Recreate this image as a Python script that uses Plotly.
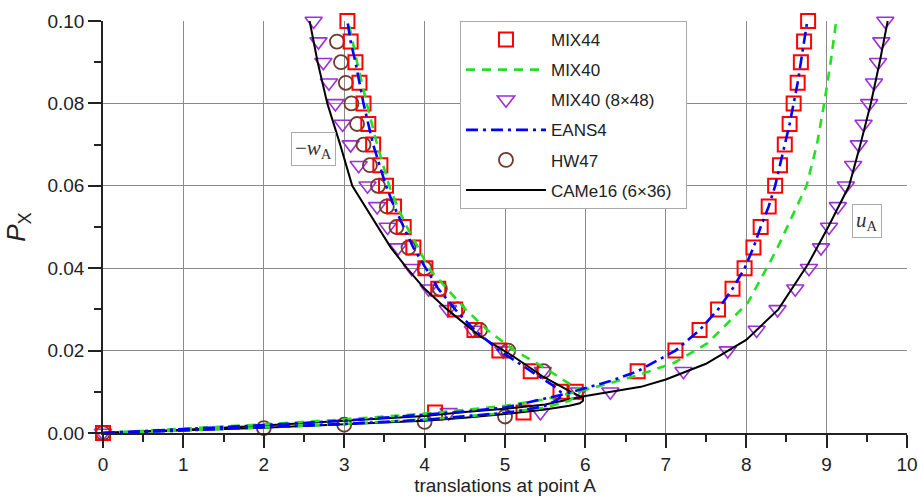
import plotly.graph_objects as go

# ---------------- data ----------------
P_steps = [0.005, 0.010, 0.015, 0.020, 0.025, 0.030, 0.035, 0.040, 0.045, 0.050,
           0.055, 0.060, 0.065, 0.070, 0.075, 0.080, 0.085, 0.090, 0.095, 0.100]

# MIX44 (squares)
mix44_w_x = [0, 5.23, 5.69, 5.32, 4.93, 4.62, 4.38, 4.17, 4.01, 3.86, 3.74,
             3.62, 3.52, 3.45, 3.36, 3.30, 3.24, 3.19, 3.14, 3.08, 3.04]
mix44_w_y = [0] + P_steps
mix44_u_x = [4.13, 5.88, 6.65, 7.12, 7.42, 7.65, 7.83, 7.98, 8.09, 8.18,
             8.28, 8.36, 8.42, 8.48, 8.54, 8.59, 8.64, 8.68, 8.72, 8.77]
mix44_u_y = P_steps

# MIX40 (8x48) (triangles)
tri_w_x = [0, 5.44, 5.92, 5.47, 4.98, 4.60, 4.29, 4.05, 3.84, 3.67, 3.54,
           3.41, 3.29, 3.18, 3.08, 2.98, 2.89, 2.81, 2.74, 2.68, 2.62]
tri_w_y = [0] + P_steps
tri_u_x = [4.30, 6.31, 7.22, 7.77, 8.13, 8.39, 8.61, 8.78, 8.93, 9.03,
           9.14, 9.24, 9.33, 9.40, 9.46, 9.53, 9.59, 9.64, 9.68, 9.73]
tri_u_y = P_steps

# HW47 (circles)
hw47_x = [0, 2.0, 3.0, 4.0, 5.0, 5.48, 5.04, 4.69, 4.41, 4.19, 4.00, 3.80,
          3.65, 3.53, 3.42, 3.32, 3.24, 3.16, 3.09, 3.02, 2.96, 2.91]
hw47_y = [0, 0.0012, 0.0020, 0.0027, 0.0040, 0.015, 0.020, 0.025, 0.030, 0.035,
          0.040, 0.045, 0.050, 0.055, 0.060, 0.065, 0.070, 0.075, 0.080, 0.085,
          0.090, 0.095]

# MIX40 (green dashed)
mix40_w_x = [0, 1, 2, 3, 4, 4.5, 5, 5.5, 5.8, 5.92, 5.94, 5.82, 5.48, 5.12, 4.78,
             4.51, 4.28, 4.05, 3.92, 3.78, 3.66, 3.56, 3.41, 3.28, 3.16, 3.05]
mix40_w_y = [0, 0.0006, 0.0014, 0.0022, 0.0033, 0.0040, 0.0049, 0.0062, 0.0078,
             0.0095, 0.0105, 0.0117, 0.016, 0.020, 0.025, 0.030, 0.035, 0.040,
             0.045, 0.050, 0.055, 0.060, 0.070, 0.080, 0.090, 0.100]
mix40_u_x = [0, 1, 2, 3, 4, 4.5, 5, 5.5, 6.1, 6.65, 7.1, 7.52, 8.02, 8.31, 8.39,
             8.55, 8.75, 8.88, 8.97, 9.05, 9.12]
mix40_u_y = [0, 0.0010, 0.0021, 0.0033, 0.0047, 0.0056, 0.0066, 0.0082, 0.0110,
             0.0140, 0.0170, 0.0218, 0.0316, 0.042, 0.045, 0.0517, 0.060, 0.070,
             0.080, 0.090, 0.100]

# EANS4 (blue dash-dot)
eans_w_x = [0, 1, 2, 3, 4, 4.45, 5, 5.23, 5.5, 5.65, 5.72, 5.6, 5.32, 4.93, 4.62,
            4.38, 4.17, 4.01, 3.86, 3.74, 3.62, 3.52, 3.44, 3.36, 3.30, 3.24,
            3.19, 3.14, 3.08, 3.04]
eans_w_y = [0, 0.0006, 0.0014, 0.0022, 0.0032, 0.0039, 0.0049, 0.0055, 0.0066,
            0.0080, 0.0095, 0.0115, 0.015, 0.020, 0.025, 0.030, 0.035, 0.040,
            0.045, 0.050, 0.055, 0.060, 0.065, 0.070, 0.075, 0.080, 0.085,
            0.090, 0.095, 0.100]
eans_u_x = [0, 1, 2, 3, 4, 4.5, 5, 5.69, 6.31, 6.65, 7.12, 7.42, 7.65, 7.83, 7.98,
            8.09, 8.18, 8.28, 8.36, 8.42, 8.48, 8.54, 8.59, 8.64, 8.68, 8.72, 8.76]
eans_u_y = [0, 0.0009, 0.0019, 0.0030, 0.0044, 0.0052, 0.0062, 0.0092, 0.0126,
            0.015, 0.020, 0.025, 0.030, 0.035, 0.040, 0.045, 0.050, 0.055, 0.060,
            0.065, 0.070, 0.075, 0.080, 0.085, 0.090, 0.095, 0.100]

# CAMe16 (6x36) (black solid)
came_w_x = [0, 1, 2, 3, 4, 4.5, 5, 5.5, 5.8, 5.93, 5.97, 5.97, 5.82, 5.48, 5.11,
            4.69, 4.28, 4.0, 3.78, 3.58, 3.42, 3.10, 2.95, 2.79, 2.67, 2.57]
came_w_y = [0, 0.0006, 0.0013, 0.0021, 0.0030, 0.0037, 0.0046, 0.0057, 0.0066,
            0.0072, 0.0078, 0.0086, 0.0100, 0.0136, 0.0185, 0.0235, 0.030, 0.035,
            0.040, 0.045, 0.050, 0.060, 0.070, 0.080, 0.090, 0.100]
came_u_x = [0, 1, 2, 3, 4, 4.5, 5, 5.5, 6, 6.69, 7, 7.5, 8, 8.4, 8.77, 9.02, 9.28,
            9.42, 9.55, 9.66, 9.76]
came_u_y = [0, 0.0008, 0.0018, 0.0029, 0.0041, 0.0051, 0.0059, 0.0069, 0.0090,
            0.0112, 0.0130, 0.0168, 0.0226, 0.030, 0.041, 0.050, 0.060, 0.070,
            0.080, 0.090, 0.100]

x_ticks = [0, 1, 2, 3, 4, 5, 6, 7, 8, 9, 10]
y_ticks = [0.00, 0.02, 0.04, 0.06, 0.08, 0.10]


def join(a, b):
    return list(a) + [None] + list(b)


FONT = "Liberation Sans, Arial, sans-serif"
fig = go.Figure()

# markers (drawn first)
fig.add_trace(go.Scatter(
    x=join(tri_w_x, tri_u_x), y=join(tri_w_y, tri_u_y), mode="markers",
    name="MIX40 (8×48)", legendrank=3, legendgroup="c", cliponaxis=False,
    marker=dict(symbol="triangle-down-open", size=15, color="#9b30d9",
                line=dict(width=1.6, color="#9b30d9"))))
fig.add_trace(go.Scatter(
    x=hw47_x, y=hw47_y, mode="markers", name="HW47", legendrank=5, legendgroup="e",
    cliponaxis=False,
    marker=dict(symbol="circle-open", size=14, color="#6e3b2e",
                line=dict(width=1.8, color="#6e3b2e"))))
fig.add_trace(go.Scatter(
    x=join(mix44_w_x, mix44_u_x), y=join(mix44_w_y, mix44_u_y), mode="markers",
    name="MIX44", legendrank=1, legendgroup="a", cliponaxis=False,
    marker=dict(symbol="square-open", size=14, color="#ff0000",
                line=dict(width=2, color="#ff0000"))))
# lines
fig.add_trace(go.Scatter(
    x=join(came_w_x, came_u_x), y=join(came_w_y, came_u_y), mode="lines",
    name="CAMe16 (6×36)\u00a0\u00a0", legendrank=6, legendgroup="f",
    line=dict(color="#000000", width=2)))
fig.add_trace(go.Scatter(
    x=join(mix40_w_x, mix40_u_x), y=join(mix40_w_y, mix40_u_y), mode="lines",
    name="MIX40", legendrank=2, legendgroup="b",
    line=dict(color="#22e022", width=2.6, dash="9px,7px")))
fig.add_trace(go.Scatter(
    x=join(eans_w_x, eans_u_x), y=join(eans_w_y, eans_u_y), mode="lines",
    name="EANS4", legendrank=4, legendgroup="d",
    line=dict(color="#0000ff", width=2.6, dash="12px,5px,3px,5px")))

fig.add_annotation(x=2.62, y=0.069, xref="x", yref="y",
                   text="−<i>w</i><sub>A</sub>", showarrow=False,
                   font=dict(family="Liberation Serif, Times New Roman, serif", size=21, color="#333"),
                   bgcolor="white", bordercolor="#aaaaaa", borderwidth=1, borderpad=3)
fig.add_annotation(x=9.50, y=0.0515, xref="x", yref="y",
                   text="<i>u</i><sub>A</sub>", showarrow=False,
                   font=dict(family="Liberation Serif, Times New Roman, serif", size=21, color="#333"),
                   bgcolor="white", bordercolor="#aaaaaa", borderwidth=1, borderpad=3)

fig.update_layout(
    width=918, height=499,
    margin=dict(l=103, r=11, t=21, b=66, autoexpand=False),
    paper_bgcolor="white", plot_bgcolor="white",
    font=dict(family=FONT, size=19, color="#222"),
    showlegend=True,
    legend=dict(x=0.444, y=1.0, xanchor="left", yanchor="top",
                bgcolor="white", bordercolor="#aaaaaa", borderwidth=1,
                font=dict(family=FONT, size=17, color="#222"),
                itemwidth=80, tracegroupgap=5, traceorder="grouped"),
    xaxis=dict(range=[0, 10], tickvals=x_ticks, ticktext=[str(v) for v in x_ticks],
               automargin=False,
               showgrid=True, gridcolor="#8a8a8a", gridwidth=1, zeroline=False,
               showline=True, linecolor="#222", linewidth=1.5,
               ticks="outside", ticklen=13, tickwidth=1.5, tickcolor="#222",
               minor=dict(dtick=0.5, ticks="outside", ticklen=7, tickwidth=1.5,
                          tickcolor="#222", showgrid=False),
               title=dict(text="translations at point A", standoff=4,
                          font=dict(family=FONT, size=19))),
    yaxis=dict(range=[0, 0.1], tickvals=y_ticks, ticktext=[f"{v:.2f}" for v in y_ticks],
               automargin=False,
               showgrid=True, gridcolor="#8a8a8a", gridwidth=1, zeroline=False,
               showline=True, linecolor="#222", linewidth=1.5,
               ticks="outside", ticklen=13, tickwidth=1.5, tickcolor="#222",
               minor=dict(dtick=0.01, ticks="outside", ticklen=7, tickwidth=1.5,
                          tickcolor="#222", showgrid=False),
               title=dict(text="<i>P</i><sub>X</sub>", standoff=14,
                          font=dict(family=FONT, size=26))),
)

fig.write_html("out.html", config={"displayModeBar": False},
               post_script="document.body.style.margin='0px';document.body.style.overflow='hidden';")
